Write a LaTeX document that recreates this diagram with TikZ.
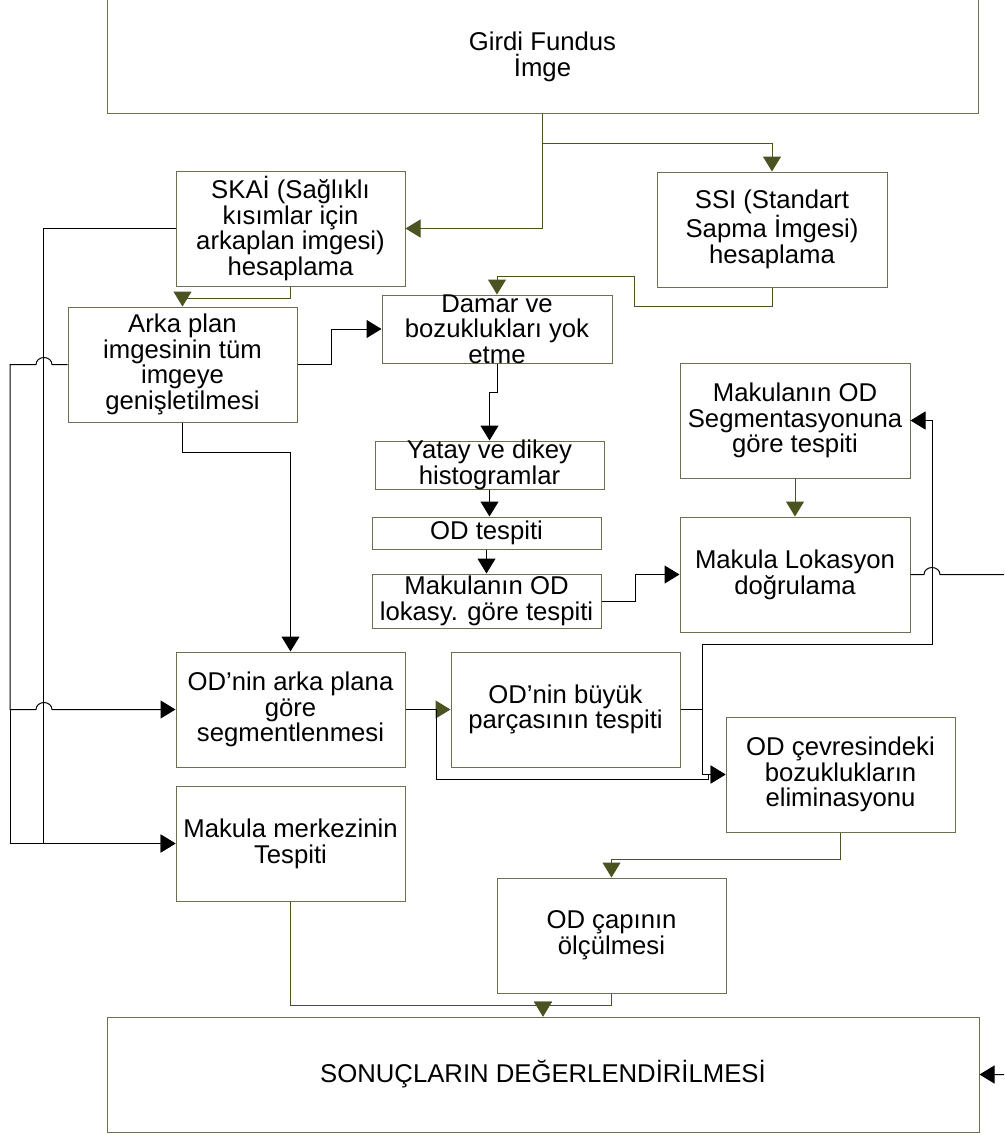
\documentclass[tikz,border=0pt]{standalone}
\usepackage{fontspec}
\setmainfont{Liberation Sans}
\usetikzlibrary{arrows.meta}
\definecolor{custom-olive}{RGB}{75, 83, 32}
\definecolor{custom-box}{RGB}{110, 110, 80}
\newcommand{\yazi}{\fontsize{25.7}{25.7}\selectfont}

\tikzset{
  kutu/.style={draw=custom-box, line width=1pt, inner sep=0pt, align=center, font=\yazi,
    minimum width=229pt, minimum height=115pt},
  yazi/.style={inner sep=0pt, align=center, font=\yazi},
  okyesil/.style={draw=custom-olive, line width=1pt, -{Triangle[length=15pt,width=18pt]}},
  oksiyah/.style={draw=black, line width=1pt, -{Triangle[length=15pt,width=18pt]}},
  oksiyahyesil/.style={draw=black, line width=1pt, -{Triangle[length=15pt,width=18pt,color=custom-olive]}},
}

\begin{document}
\begin{tikzpicture}[x=1pt,y=-1pt]
\useasboundingbox (0,0) rectangle (1004,1135);
\fill[white] (0,0) rectangle (1004,1135);
\clip (0,0) rectangle (1004,1135);

% kutular
\node[kutu, minimum width=871pt, minimum height=116pt] (girdi) at (542.5,55) {};
\node[yazi] (girdi-yazi) at (542.5,57) {Girdi Fundus\\İmge};
\node[kutu] (skai) at (290.5,228.5) {SKAİ (Sağlıklı\\kısımlar için\\arkaplan imgesi)\\hesaplama};
\node[kutu, minimum width=230pt] (ssi) at (772,229.5) {SSI (Standart\\Sapma İmgesi)\\hesaplama};
\node[kutu] (arka) at (182.5,364.5) {Arka plan\\imgesinin tüm\\imgeye\\genişletilmesi};
\node[kutu, minimum width=230pt, minimum height=68pt] (damar) at (497,329) {};
\node[yazi] (damar-yazi) at (damar) {Damar ve\\bozuklukları yok\\etme};
\node[kutu, minimum height=48pt] (yatay) at (489.5,465) {};
\node[yazi] (yatay-yazi) at (yatay) {Yatay ve dikey\\histogramlar};
\node[kutu, minimum height=32pt] (odtespit) at (486.5,533) {OD tespiti};
\node[kutu, minimum height=54pt] (lokasy) at (486.5,601) {Makulanın OD\\lokasy. göre tespiti};
\node[kutu, minimum width=230pt] (segment) at (795,420.5) {Makulanın OD\\Segmentasyonuna\\göre tespiti};
\node[kutu, minimum width=230pt] (mlok) at (795,574.5) {Makula Lokasyon\\doğrulama};
\node[kutu] (odarka) at (290.5,709.5) {OD’nin arka plana\\göre\\segmentlenmesi};
\node[kutu] (buyuk) at (565.5,709.5) {OD’nin büyük\\parçasının tespiti};
\node[kutu] (cevre) at (840.5,774.5) {OD çevresindeki\\bozuklukların\\eliminasyonu};
\node[kutu] (merkez) at (290.5,843.5) {Makula merkezinin\\Tespiti};
\node[kutu] (cap) at (611.5,935.5) {OD çapının\\ölçülmesi};
\node[kutu, minimum width=872pt] (sonuc) at (543,1074.5) {SONUÇLARIN DEĞERLENDİRİLMESİ};

\coordinate (sol) at (10,709.5);

% yesil oklar
\draw[okyesil] (girdi.south) |- (skai.east);
\draw[okyesil] (girdi.south) -- ++(0,30) -| (ssi.north);
\draw[okyesil] (skai.south) -- ++(0,12) -| (arka.north);
\draw[okyesil] (ssi.south) -- ++(0,19) -| ++(-138,-30) -| (damar.north);
\draw[okyesil] (segment.south) -- (mlok.north);
\draw[okyesil] (cevre.south) -- ++(0,27) -| (cap.north);
\draw[okyesil] (cap.south) -- ++(0,12) -| (sonuc.north);
\draw[okyesil] (merkez.south) -- ++(0,104) -| (sonuc.north);

% siyah oklar
\draw[oksiyah] (arka.east) -- ++(34,0) |- (damar.west);
\draw[oksiyah] (damar.south) -- ++(0,29) -| (yatay.north);
\draw[oksiyah] (yatay.south) -- (yatay.south |- odtespit.north);
\draw[oksiyah] (odtespit.south) -- (lokasy.north);
\draw[oksiyah] (lokasy.east) -- ++(34,0) |- (mlok.west);
\draw[oksiyah] (arka.south) -- ++(0,30) -| (odarka.north);
\draw[oksiyah] (skai.west) -- ++(-132,0) |- (merkez.west);
\draw[oksiyah] (arka.west) -- (52,364.5) arc[start angle=0, end angle=-180, x radius=8, y radius=7]
  -- (10,364.5) -- (sol) -- (36,709.5) arc[start angle=180, end angle=360, x radius=8, y radius=7]
  -- (odarka.west);
\draw[oksiyah] (sol) |- (merkez.west);
\draw[oksiyahyesil] (odarka.east) -- (buyuk.west);
\draw[oksiyah] (odarka.east) -- ++(31,0) |- (708,779) |- (cevre.west);
\draw[oksiyah] (buyuk.east) -- ++(22,0) |- (932,644) |- (segment.east);
\draw[oksiyah] (buyuk.east) -- ++(22,0) |- (cevre.west);
\draw[oksiyah] (mlok.east) -- (924,574.5) arc[start angle=180, end angle=360, x radius=8, y radius=7]
  -- (1020,574.5) |- (sonuc.east);
\end{tikzpicture}
\end{document}
